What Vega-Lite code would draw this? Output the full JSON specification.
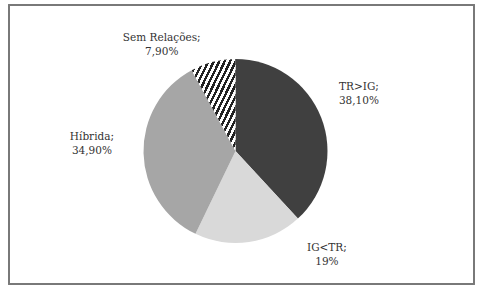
{
  "$schema": "https://vega.github.io/schema/vega-lite/v6.json",
  "autosize": "none",
  "width": 465,
  "height": 279,
  "padding": {"left": 9, "top": 5, "right": 7, "bottom": 7},
  "background": "#ffffff",
  "config": {"view": {"stroke": null}},
  "data": {
    "values": [
      {"cat": "TR>IG", "valor": 38.1, "ordem": 1, "rotulo": "TR>IG;\n38,10%"},
      {"cat": "IG<TR", "valor": 19.0, "ordem": 2, "rotulo": "IG<TR;\n19%"},
      {"cat": "Híbrida", "valor": 34.9, "ordem": 3, "rotulo": "Híbrida;\n34,90%"},
      {"cat": "Sem Relações", "valor": 7.9, "ordem": 4, "rotulo": "Sem Relações;\n7,90%"}
    ]
  },
  "layer": [
    {
      "mark": {"type": "rect", "filled": false, "stroke": "#7a7a7a", "strokeWidth": 1.5},
      "encoding": {}
    },
    {
      "mark": {"type": "arc", "outerRadius": 92, "xOffset": -6, "yOffset": 6.5, "strokeWidth": 0},
      "encoding": {
        "theta": {"field": "valor", "type": "quantitative", "stack": true},
        "order": {"field": "ordem", "type": "quantitative"},
        "color": {
          "condition": {
            "test": "datum.cat === 'Sem Relações'",
            "value": {
              "gradient": "linear", "x1": 0, "y1": 0, "x2": 1, "y2": 1,
              "stops": [
                {"offset": 0, "color": "#222222"}, {"offset": 0.03, "color": "#222222"}, {"offset": 0.03, "color": "#ffffff"}, {"offset": 0.0625, "color": "#ffffff"},
                {"offset": 0.0625, "color": "#222222"}, {"offset": 0.0925, "color": "#222222"}, {"offset": 0.0925, "color": "#ffffff"}, {"offset": 0.125, "color": "#ffffff"},
                {"offset": 0.125, "color": "#222222"}, {"offset": 0.155, "color": "#222222"}, {"offset": 0.155, "color": "#ffffff"}, {"offset": 0.1875, "color": "#ffffff"},
                {"offset": 0.1875, "color": "#222222"}, {"offset": 0.2175, "color": "#222222"}, {"offset": 0.2175, "color": "#ffffff"}, {"offset": 0.25, "color": "#ffffff"},
                {"offset": 0.25, "color": "#222222"}, {"offset": 0.28, "color": "#222222"}, {"offset": 0.28, "color": "#ffffff"}, {"offset": 0.3125, "color": "#ffffff"},
                {"offset": 0.3125, "color": "#222222"}, {"offset": 0.3425, "color": "#222222"}, {"offset": 0.3425, "color": "#ffffff"}, {"offset": 0.375, "color": "#ffffff"},
                {"offset": 0.375, "color": "#222222"}, {"offset": 0.405, "color": "#222222"}, {"offset": 0.405, "color": "#ffffff"}, {"offset": 0.4375, "color": "#ffffff"},
                {"offset": 0.4375, "color": "#222222"}, {"offset": 0.4675, "color": "#222222"}, {"offset": 0.4675, "color": "#ffffff"}, {"offset": 0.5, "color": "#ffffff"},
                {"offset": 0.5, "color": "#222222"}, {"offset": 0.53, "color": "#222222"}, {"offset": 0.53, "color": "#ffffff"}, {"offset": 0.5625, "color": "#ffffff"},
                {"offset": 0.5625, "color": "#222222"}, {"offset": 0.5925, "color": "#222222"}, {"offset": 0.5925, "color": "#ffffff"}, {"offset": 0.625, "color": "#ffffff"},
                {"offset": 0.625, "color": "#222222"}, {"offset": 0.655, "color": "#222222"}, {"offset": 0.655, "color": "#ffffff"}, {"offset": 0.6875, "color": "#ffffff"},
                {"offset": 0.6875, "color": "#222222"}, {"offset": 0.7175, "color": "#222222"}, {"offset": 0.7175, "color": "#ffffff"}, {"offset": 0.75, "color": "#ffffff"},
                {"offset": 0.75, "color": "#222222"}, {"offset": 0.78, "color": "#222222"}, {"offset": 0.78, "color": "#ffffff"}, {"offset": 0.8125, "color": "#ffffff"},
                {"offset": 0.8125, "color": "#222222"}, {"offset": 0.8425, "color": "#222222"}, {"offset": 0.8425, "color": "#ffffff"}, {"offset": 0.875, "color": "#ffffff"},
                {"offset": 0.875, "color": "#222222"}, {"offset": 0.905, "color": "#222222"}, {"offset": 0.905, "color": "#ffffff"}, {"offset": 0.9375, "color": "#ffffff"},
                {"offset": 0.9375, "color": "#222222"}, {"offset": 0.9675, "color": "#222222"}, {"offset": 0.9675, "color": "#ffffff"}, {"offset": 1, "color": "#ffffff"}
              ]
            }
          },
          "field": "cat",
          "type": "nominal",
          "scale": {
            "domain": ["TR>IG", "IG<TR", "Híbrida", "Sem Relações"],
            "range": ["#404040", "#d9d9d9", "#a6a6a6", "#ffffff"]
          },
          "legend": null
        }
      }
    },
    {
      "mark": {"type": "text", "radius": 125, "xOffset": -6, "yOffset": 6.5, "dx": 7, "dy": -18, "align": "center", "baseline": "middle", "font": "DejaVu Serif", "fontSize": 10.5, "lineHeight": 14, "lineBreak": "\n", "fill": "#333333"},
      "encoding": {
        "theta": {"field": "valor", "type": "quantitative", "stack": true},
        "order": {"field": "ordem", "type": "quantitative"},
        "text": {"condition": {"test": "datum.cat === 'TR>IG'", "field": "rotulo"}, "value": ""}
      }
    },
    {
      "mark": {"type": "text", "radius": 125, "xOffset": -6, "yOffset": 6.5, "dx": 73, "dy": -26.5, "align": "center", "baseline": "middle", "font": "DejaVu Serif", "fontSize": 10.5, "lineHeight": 14, "lineBreak": "\n", "fill": "#333333"},
      "encoding": {
        "theta": {"field": "valor", "type": "quantitative", "stack": true},
        "order": {"field": "ordem", "type": "quantitative"},
        "text": {"condition": {"test": "datum.cat === 'IG<TR'", "field": "rotulo"}, "value": ""}
      }
    },
    {
      "mark": {"type": "text", "radius": 125, "xOffset": -6, "yOffset": 6.5, "dx": -18.6, "dy": -17.4, "align": "center", "baseline": "middle", "font": "DejaVu Serif", "fontSize": 10.5, "lineHeight": 14, "lineBreak": "\n", "fill": "#333333"},
      "encoding": {
        "theta": {"field": "valor", "type": "quantitative", "stack": true},
        "order": {"field": "ordem", "type": "quantitative"},
        "text": {"condition": {"test": "datum.cat === 'Híbrida'", "field": "rotulo"}, "value": ""}
      }
    },
    {
      "mark": {"type": "text", "radius": 125, "xOffset": -6, "yOffset": 6.5, "dx": -43, "dy": 8, "align": "center", "baseline": "middle", "font": "DejaVu Serif", "fontSize": 10.5, "lineHeight": 14, "lineBreak": "\n", "fill": "#333333"},
      "encoding": {
        "theta": {"field": "valor", "type": "quantitative", "stack": true},
        "order": {"field": "ordem", "type": "quantitative"},
        "text": {"condition": {"test": "datum.cat === 'Sem Relações'", "field": "rotulo"}, "value": ""}
      }
    }
  ]
}
